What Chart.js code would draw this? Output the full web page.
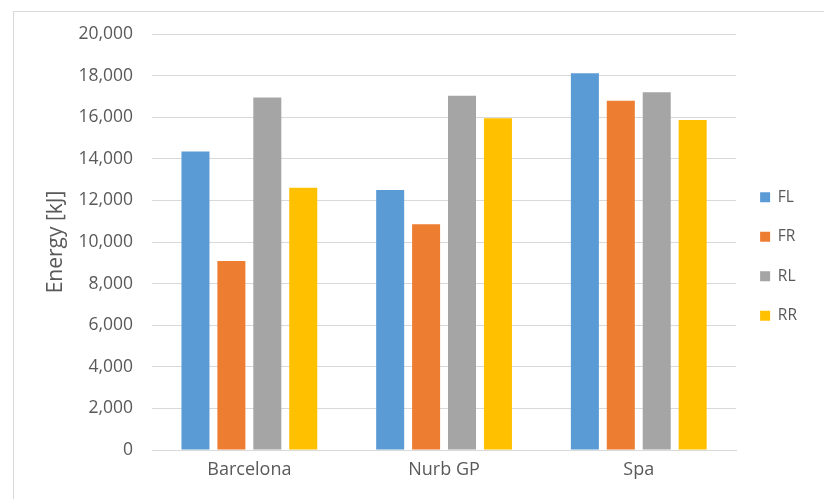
<!DOCTYPE html>
<html>
<head>
<meta charset="utf-8">
<script src="https://cdn.jsdelivr.net/npm/chart.js@4.4.1/dist/chart.umd.min.js"></script>
<style>
  html, body { margin: 0; padding: 0; background: #ffffff; }
  #wrap { width: 824px; height: 499px; position: relative; }
</style>
</head>
<body>
<div id="wrap"><canvas id="c" width="824" height="499"></canvas></div>
<script>
// Energy per wheel corner for each circuit
const tracks = ['Barcelona', 'Nurb GP', 'Spa'];
const seriesNames = ['FL', 'FR', 'RL', 'RR'];
const energyFL = [14350, 12500, 18110];
const energyFR = [9090, 10850, 16790];
const energyRL = [16950, 17030, 17200];
const energyRR = [12610, 15950, 15870];
const yTicks = [0, 2000, 4000, 6000, 8000, 10000, 12000, 14000, 16000, 18000, 20000];

const colors = ['#5B9BD5', '#ED7D31', '#A5A5A5', '#FFC000'];
const values = [energyFL, energyFR, energyRL, energyRR];

const textColor = '#595959';
const fontFamily = "'Open Sans', 'Noto Sans', sans-serif";

// light frame around the chart
const framePlugin = {
  id: 'frame',
  beforeDraw(chart) {
    const ctx = chart.ctx;
    ctx.save();
    ctx.fillStyle = '#ffffff';
    ctx.fillRect(0, 0, chart.width, chart.height);
    ctx.strokeStyle = '#d9d9d9';
    ctx.lineWidth = 1;
    ctx.strokeRect(13.5, 11.5, chart.width + 20, chart.height + 20);
    ctx.restore();
  }
};

new Chart(document.getElementById('c'), {
  type: 'bar',
  data: {
    labels: tracks,
    datasets: seriesNames.map((name, i) => ({
      label: name,
      data: values[i],
      backgroundColor: colors[i],
      borderWidth: 0,
      barPercentage: 0.78,
      categoryPercentage: 0.738
    }))
  },
  options: {
    responsive: false,
    animation: false,
    devicePixelRatio: 1,
    layout: { padding: { left: 10, right: 17, top: 34, bottom: 20 } },
    plugins: {
      legend: {
        position: 'right',
        labels: {
          boxWidth: 10,
          boxHeight: 10,
          padding: 24,
          color: textColor,
          font: { family: fontFamily, size: 15.5 }
        }
      },
      tooltip: { enabled: false }
    },
    scales: {
      x: {
        grid: { display: false, drawTicks: false },
        border: { display: true, color: '#d9d9d9', width: 1 },
        ticks: { color: textColor, padding: 9, font: { family: fontFamily, size: 18 } },
        afterFit(scale) { scale.height = 29; }
      },
      y: {
        min: 0,
        max: 20000,
        afterBuildTicks(scale) { scale.ticks = yTicks.map(v => ({ value: v })); },
        grid: { color: '#d9d9d9', drawTicks: false },
        border: { display: false },
        ticks: {
          color: textColor,
          padding: 19,
          font: { family: fontFamily, size: 17.5 },
          callback: v => v.toLocaleString('en-US')
        },
        title: {
          display: true,
          text: 'Energy [kJ]',
          color: textColor,
          font: { family: fontFamily, size: 21 },
          padding: { top: 33, bottom: 4 }
        },
        afterFit(scale) { scale.width = 142; }
      }
    }
  },
  plugins: [framePlugin]
});
</script>
</body>
</html>
